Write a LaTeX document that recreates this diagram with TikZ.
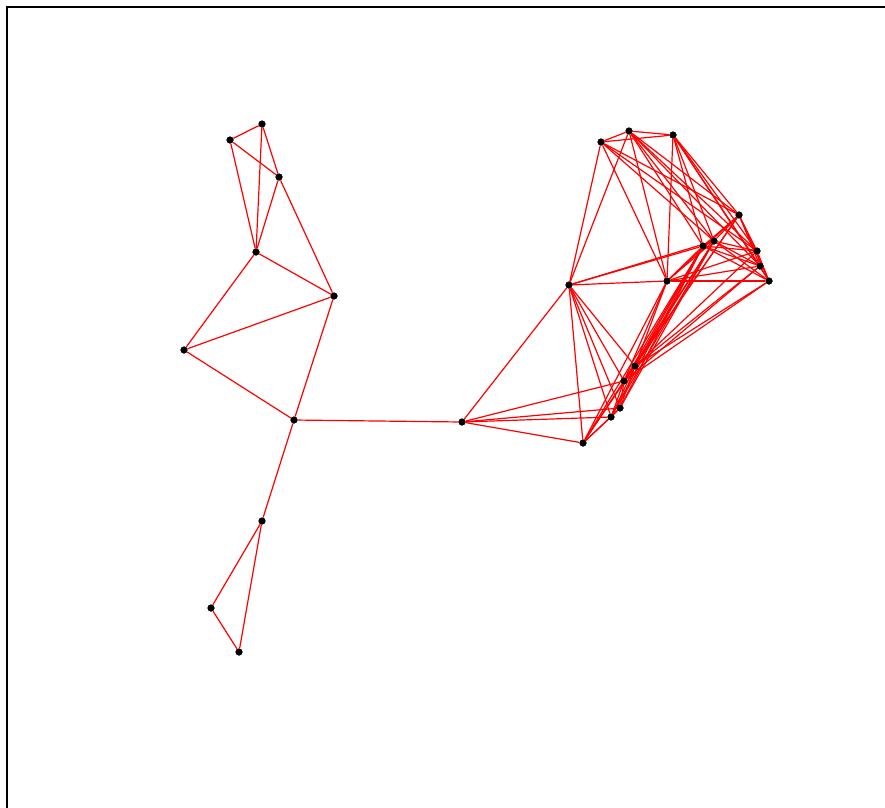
\documentclass[tikz,border=0pt]{standalone}
\begin{document}
\begin{tikzpicture}[x=1pt,y=-1pt,
  vtx/.style={circle,fill=black,draw=none,minimum size=7pt,inner sep=0pt},
  edge/.style={red,line width=1.2pt},
  frame/.style={black,line width=2pt}]
\useasboundingbox (0,0) rectangle (885,807);
\coordinate (fa) at (7,808);
\coordinate (fb) at (7,7);
\coordinate (fc) at (886,7);
\draw[frame] (fa) -- (fb) -- (fc);
% left cluster
\node[vtx] (l1) at (262,124) {};
\node[vtx] (l2) at (230,140) {};
\node[vtx] (l3) at (279,177) {};
\node[vtx] (l4) at (256,252) {};
\node[vtx] (l5) at (334,296) {};
\node[vtx] (l6) at (184,350) {};
\node[vtx] (l7) at (294,420) {};
\node[vtx] (l8) at (262,521) {};
\node[vtx] (l9) at (211,608) {};
\node[vtx] (l10) at (239,652) {};
\node[vtx] (m) at (462,422) {};
% right cluster
\node[vtx] (a) at (601,142) {};
\node[vtx] (b) at (629,131) {};
\node[vtx] (c) at (673,135) {};
\node[vtx] (d) at (739,215) {};
\node[vtx] (e) at (714,241) {};
\node[vtx] (f) at (703,246) {};
\node[vtx] (g) at (757,251) {};
\node[vtx] (h) at (760,266) {};
\node[vtx] (i) at (769,281) {};
\node[vtx] (j) at (667,281) {};
\node[vtx] (k) at (569,285) {};
\node[vtx] (n) at (635,366) {};
\node[vtx] (o) at (624,381) {};
\node[vtx] (p) at (620,408) {};
\node[vtx] (q) at (611,417) {};
\node[vtx] (r) at (583,443) {};
\foreach \u/\v in {l2/l1,l1/l3,l1/l4,l2/l3,l2/l4,l3/l4,l3/l5,l4/l5,l4/l6,l6/l5,l6/l7,l5/l7,l7/l8,l7/m,l8/l9,l8/l10,l9/l10,
  a/b,a/c,b/c,a/k,b/k,a/j,b/j,c/j,
  a/d,a/e,a/g,b/d,b/e,b/f,b/g,b/h,c/d,c/e,c/f,c/g,c/h,c/i,
  d/e,d/f,d/g,d/h,d/i,e/f,e/g,e/h,e/i,f/g,f/h,f/i,g/h,g/i,h/i,
  j/f,j/e,j/d,j/g,j/h,j/i,k/j,k/f,k/e,
  n/o,n/p,n/q,n/r,o/p,o/q,o/r,p/q,p/r,q/r,
  k/n,k/o,k/p,k/q,k/r,m/k,m/o,m/p,m/q,m/r,
  n/j,n/f,n/e,n/d,n/g,n/h,n/i,o/j,o/f,o/e,o/d,o/i,o/h,p/f,p/e,q/f,q/e,r/f,r/j}
  \draw[edge] (\u) -- (\v);
\foreach \x in {l1,l2,l3,l4,l5,l6,l7,l8,l9,l10,m,a,b,c,d,e,f,g,h,i,j,k,n,o,p,q,r}
  \node[vtx] at (\x) {};
\end{tikzpicture}
\end{document}
